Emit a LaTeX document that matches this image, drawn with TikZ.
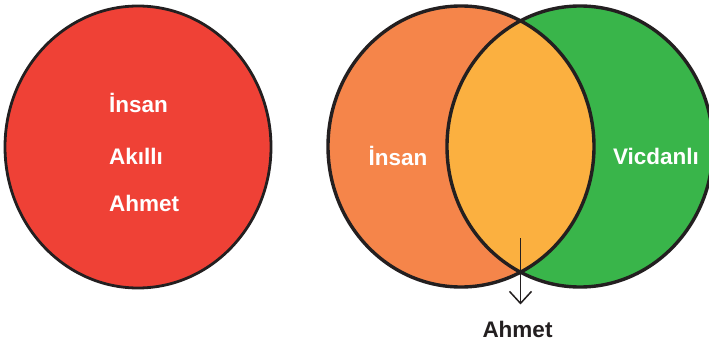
\documentclass[tikz,border=0pt]{standalone}
\usepackage{fontspec}
\setmainfont{Liberation Sans}
\usepackage{xcolor}
\usetikzlibrary{arrows.meta}

\definecolor{setred}{RGB}{239,65,54}
\definecolor{setorange}{RGB}{245,133,74}
\definecolor{setyellow}{RGB}{251,176,64}
\definecolor{setgreen}{RGB}{57,181,74}
\definecolor{inkdark}{RGB}{35,31,32}

\begin{document}
\begin{tikzpicture}[
        x=1pt, y=-1pt,
        set/.style={draw=inkdark, line width=3.4pt},
        label/.style={font=\bfseries\fontsize{22.5}{26}\selectfont, text=white, inner sep=0pt},
        arrow/.style={-{Straight Barb[length=12pt, width=22pt]}, line width=1.5pt, draw=inkdark},
    ]
        \useasboundingbox (0,0) rectangle (709,345);

        % Single set
        \filldraw[set, line width=2.8pt, fill=setred] (138,147) ellipse [x radius=133, y radius=141];
        \node[label, anchor=base west] (insanA) at (109,112) {İnsan};
        \node[label, anchor=base west] (akilli) at (109,164) {Akıllı};
        \node[label, anchor=base west] (ahmetA) at (109,211) {Ahmet};

        % Two sets
        \fill[setorange] (461,146.5) ellipse [x radius=133, y radius=140.5];
        \fill[setgreen] (580,146.5) ellipse [x radius=133, y radius=140.5];
        \begin{scope}
            \clip (461,146.5) ellipse [x radius=133, y radius=140.5];
            \fill[setyellow] (580,146.5) ellipse [x radius=133, y radius=140.5];
        \end{scope}
        \draw[set] (461,146.5) ellipse [x radius=133, y radius=140.5];
        \draw[set] (580,146.5) ellipse [x radius=133, y radius=140.5];

        \node[label] (insanB) at (398,156) {İnsan};
        \node[label] (vicdanli) at (656,156) {Vicdanlı};

        % Pointer to the common part
        \coordinate (common) at (520.5,238);
        \node[label, text=inkdark, anchor=base] (ahmetB) at (517.5,337) {Ahmet};
        \draw[arrow, shorten >=16pt] (common) -- (ahmetB.north -| common);
    \end{tikzpicture}
\end{document}
